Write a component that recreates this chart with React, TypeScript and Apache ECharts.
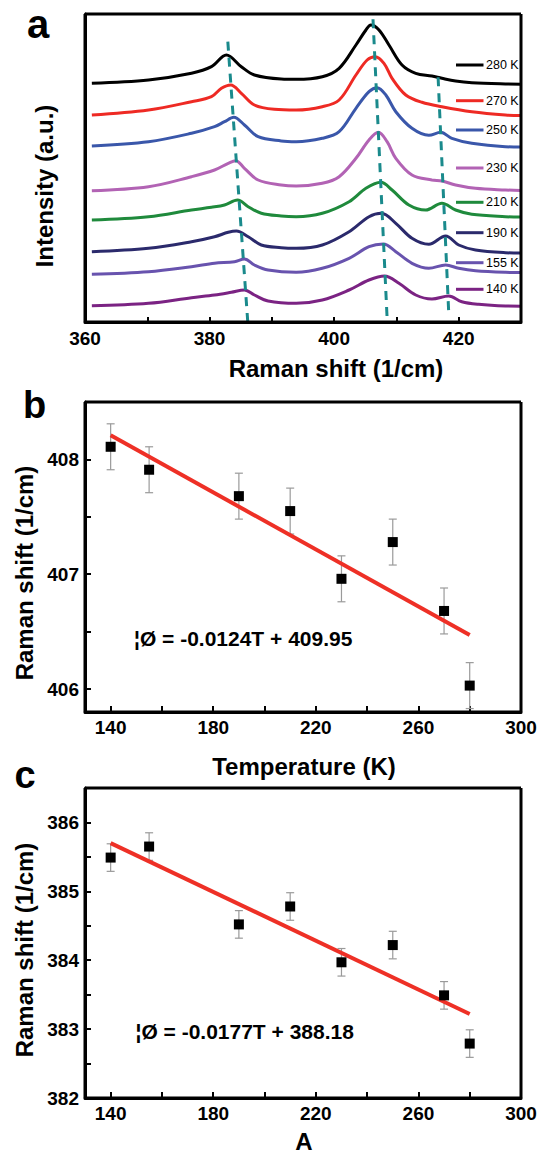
import React, { useEffect, useRef } from "react";
import * as echarts from "echarts";

const FONT = "'Liberation Sans', Arial, Helvetica, sans-serif";

// ---------- Panel a: Raman spectra (x: Raman shift 1/cm, y: offset intensity a.u.) ----------
const spectraLabels = ["280 K", "270 K", "250 K", "230 K", "210 K", "190 K", "155 K", "140 K"];
const spectraColors = ["#000000", "#ee2a24", "#3a57aa", "#b263b4", "#1f8a3c", "#2b2a6c", "#6853ae", "#7b2383"];

const spec280 = [[361.1,238.7],[370.2,242],[377.1,248.7],[380.3,255.3],[382.7,267],[385.1,255.3],[387.2,247],[391.5,243],[393.9,242.7],[398.1,245.3],[400.8,253.7],[403.5,277],[405.1,292],[405.9,297],[407.2,292],[408.8,277],[410.9,257],[413.1,248.7],[415.7,246],[417.3,243.7],[419.5,241],[422.1,239.3],[427.5,238],[430,237.8]];
const spec270 = [[361.1,207],[370.2,212],[377.1,220.3],[380.3,225.3],[381.9,233.7],[383.4,237],[385.1,228.7],[387.2,217],[390.4,212.7],[393.9,212],[398.1,215.3],[400.8,222],[403.5,247],[405.3,262],[406.6,265.3],[408,258.7],[409.3,243.7],[411.5,227],[414.1,219.7],[417.3,215.3],[422.1,210.3],[427.5,207],[430,206.5]];
const spec250 = [[361.1,176],[370.2,180.3],[377.1,188.7],[380.8,195.3],[382.4,200.3],[383.9,204.7],[385.6,197],[387.8,185.3],[391.5,181],[393.9,180.3],[398.1,183.7],[400.8,190.3],[403.5,213.7],[405.6,230.3],[406.9,234.3],[408.3,227],[409.9,210.3],[412.5,193.7],[415.2,186.7],[417.1,189.7],[418.9,183.7],[422.1,178.7],[427.5,175.3],[430,175]];
const spec230 = [[361.1,131.3],[370.2,135.3],[377.1,145.3],[380.8,152],[383,158.7],[384.2,161.3],[385.6,153.7],[387.8,142],[391.5,137],[393.9,136],[398.1,138.7],[400.8,145.3],[403.5,163.7],[405.6,182],[407.1,189.7],[408.5,180.3],[409.9,163.7],[412.5,147],[415.7,142],[417.3,141],[419.5,137],[422.7,133.7],[427.5,132],[430,131.5]];
const spec210 = [[361.1,102],[370.2,105.3],[377.1,112],[380.3,114.7],[382.4,117],[384.5,122],[386.2,115.3],[388.3,108.7],[391.5,106],[393.9,105.3],[398.1,108.7],[402.4,120.3],[405.1,133.7],[407.5,139.7],[409.3,132],[412,117],[414.7,112],[417.3,118.7],[419.5,112],[422.1,107.7],[427.5,105.3],[430,105]];
const spec190 = [[361.1,70.3],[370.2,73.7],[377.1,80.3],[380.8,85.3],[383,89.7],[384.3,91],[386.2,85.3],[388.3,77],[391.5,74.3],[393.9,73.7],[398.1,77],[402.4,90.3],[405.6,105.3],[407.6,108.7],[409.9,98.7],[412.5,83.7],[415.2,77.7],[417.9,86],[420,77],[422.7,72],[427.5,69.3],[430,69]];
const spec155 = [[361.1,47.7],[370.2,50.3],[377.1,55.3],[380.8,58.7],[384,60.3],[385.6,63],[387.2,57],[389.4,52],[393.9,49.7],[398.1,53.7],[402.4,63.7],[405.6,75.3],[407.9,78],[409.9,70.3],[412.5,58.7],[415.2,53.7],[417.9,57],[420,53.7],[422.7,51.3],[427.5,49.7],[430,49.5]];
const spec140 = [[361.1,16.3],[370.2,18.7],[377.1,24.3],[380.8,27],[383.5,29.7],[385.6,32],[387.2,27],[389.4,21],[393.9,18.7],[398.1,22],[402.4,32],[405.6,42],[408.1,46],[410.4,38.7],[413.1,27],[415.7,23],[418.4,26],[420.5,20.3],[423.2,17.7],[427.5,16],[430,15.8]];
const spectra = [spec280, spec270, spec250, spec230, spec210, spec190, spec155, spec140];

// peak-shift guide lines (dashed)
const guide1 = [[382.93, 280.3], [386.13, 0.3]];
const guide2 = [[406.24, 302.7], [408.53, 0.3]];
const guide3 = [[416.69, 244.7], [418.4, 8.7]];

// ---------- Panel b ----------
const temps = [140, 155, 190, 210, 230, 250, 270, 280];
const shiftB = [408.11, 407.91, 407.68, 407.55, 406.96, 407.28, 406.68, 406.03];
const errB = [0.2, 0.2, 0.2, 0.2, 0.2, 0.2, 0.2, 0.2];
const fitB = [[140, 408.21], [280, 406.47]];
const eqB = "¦Ø = -0.0124T + 409.95";

// ---------- Panel c ----------
const shiftC = [385.49, 385.65, 384.52, 384.78, 383.97, 384.22, 383.49, 382.79];
const errC = [0.2, 0.2, 0.2, 0.2, 0.2, 0.2, 0.2, 0.2];
const fitC = [[140, 385.70], [280, 383.22]];
const eqC = "¦Ø = -0.0177T + 388.18";

// legend vertical layout (px)
const legendY = [65, 100.7, 130, 168, 202.3, 232.7, 262.7, 289.3];

const GRIDS = [
  { left: 85, top: 14, width: 436, height: 308 },
  { left: 85, top: 402, width: 436, height: 310 },
  { left: 85, top: 788, width: 436, height: 310 },
];

const axisLineStyle = { color: "#000000", width: 3, opacity: 1, type: "solid" };
const tickStyle = { color: "#000000", width: 2, opacity: 1 };
const tickLabel = { fontSize: 19, fontWeight: "bold", fontFamily: FONT, color: "#000" };

function errRender(params: any, api: any) {
  const x = api.value(0);
  const lo = api.coord([x, api.value(1)]);
  const hi = api.coord([x, api.value(2)]);
  const w = 4;
  const st = { stroke: "#9a9a9a", lineWidth: 1.2 };
  return {
    type: "group",
    children: [
      { type: "line", shape: { x1: lo[0], y1: lo[1], x2: hi[0], y2: hi[1] }, style: st },
      { type: "line", shape: { x1: lo[0] - w, y1: lo[1], x2: lo[0] + w, y2: lo[1] }, style: st },
      { type: "line", shape: { x1: hi[0] - w, y1: hi[1], x2: hi[0] + w, y2: hi[1] }, style: st },
    ],
  };
}

function txt(text: string, x: number, y: number, size: number, opts: any = {}) {
  return {
    type: "text",
    x,
    y,
    rotation: opts.rotation || 0,
    z: 100,
    style: {
      text,
      fontSize: size,
      fontWeight: opts.weight || "bold",
      fontFamily: FONT,
      fill: "#000",
      align: opts.align || "center",
      textAlign: opts.align || "center",
      verticalAlign: opts.valign || "middle",
      textVerticalAlign: opts.valign || "middle",
    },
  };
}

export default function App() {
  const ref = useRef<HTMLDivElement>(null);
  useEffect(() => {
    if (!ref.current) return;
    const chart = echarts.init(ref.current, undefined, { renderer: "svg" });

    const tempAxis = (gi: number) => ({
      gridIndex: gi,
      type: "value",
      min: 130,
      max: 300,
      axisLine: { show: true, onZero: false, lineStyle: axisLineStyle },
      axisTick: { show: true, inside: true, length: 6, lineStyle: tickStyle, customValues: [140, 160, 180, 200, 220, 240, 260, 280] },
      axisLabel: { ...tickLabel, margin: 6, customValues: [140, 180, 220, 260, 300] },
      splitLine: { show: false },
    });

    const shiftAxis = (gi: number, min: number, max: number, labels: number[], ticks: number[]) => ({
      gridIndex: gi,
      type: "value",
      min,
      max,
      axisLine: { show: true, onZero: false, lineStyle: axisLineStyle },
      axisTick: { show: true, inside: true, length: 6, lineStyle: tickStyle, customValues: ticks },
      axisLabel: { ...tickLabel, margin: 6, customValues: labels },
      splitLine: { show: false },
    });

    const errData = (ys: number[], errs: number[]) => temps.map((t, i) => [t, ys[i] - errs[i], ys[i] + errs[i]]);

    const series: any[] = [];
    spectra.forEach((d, i) => {
      series.push({
        type: "line",
        name: spectraLabels[i],
        xAxisIndex: 0,
        yAxisIndex: 0,
        data: d,
        smooth: 0.35,
        showSymbol: false,
        lineStyle: { color: spectraColors[i], width: 3 },
        z: 2,
      });
    });
    [guide1, guide2, guide3].forEach((g) => {
      series.push({
        type: "line",
        xAxisIndex: 0,
        yAxisIndex: 0,
        data: g,
        showSymbol: false,
        lineStyle: { color: "#1a8a8c", width: 3, type: [9, 7] },
        z: 5,
      });
    });

    const panel = (gi: number, ys: number[], errs: number[], fit: number[][]) => {
      series.push({
        type: "custom",
        xAxisIndex: gi,
        yAxisIndex: gi,
        data: errData(ys, errs),
        renderItem: errRender,
        z: 2,
      });
      series.push({
        type: "line",
        xAxisIndex: gi,
        yAxisIndex: gi,
        data: fit,
        showSymbol: false,
        lineStyle: { color: "#ee3026", width: 4 },
        z: 3,
      });
      series.push({
        type: "scatter",
        xAxisIndex: gi,
        yAxisIndex: gi,
        data: temps.map((t, i) => [t, ys[i]]),
        symbol: "rect",
        symbolSize: 10,
        itemStyle: { color: "#000", opacity: 1 },
        z: 4,
      });
    };
    panel(1, shiftB, errB, fitB);
    panel(2, shiftC, errC, fitC);

    const graphics: any[] = [
      txt("a", 38, 24, 40),
      txt("b", 34.6, 405, 38),
      txt("c", 25, 775, 38),
      txt("Intensity (a.u.)", 44, 186, 24, { rotation: Math.PI / 2 }),
      txt("Raman shift (1/cm)", 336, 368, 24),
      txt("Raman shift (1/cm)", 24, 573, 24, { rotation: Math.PI / 2 }),
      txt("Temperature (K)", 304, 766.7, 24),
      txt("Raman shift (1/cm)", 24, 950, 24, { rotation: Math.PI / 2 }),
      txt("A", 304, 1141, 24),
      txt(eqB, 134, 638.3, 21, { align: "left" }),
      txt(eqC, 135.5, 1031.7, 21, { align: "left" }),
    ];
    // plot frames: four sides as lines
    GRIDS.forEach((g) => {
      const x1 = g.left, y1 = g.top, x2 = g.left + g.width, y2 = g.top + g.height;
      const st = { stroke: "#000000", lineWidth: 3 };
      graphics.push({ type: "line", z: 90, shape: { x1, y1, x2, y2: y1 }, style: st });
      graphics.push({ type: "line", z: 90, shape: { x1: x2, y1, x2, y2 }, style: st });
      graphics.push({ type: "line", z: 90, shape: { x1, y1: y2, x2, y2 }, style: st });
      graphics.push({ type: "line", z: 90, shape: { x1, y1, x2: x1, y2 }, style: st });
    });
    spectraLabels.forEach((lab, i) => {
      graphics.push({
        type: "line",
        z: 100,
        shape: { x1: 456, y1: legendY[i], x2: 483.5, y2: legendY[i] },
        style: { stroke: spectraColors[i], lineWidth: 3 },
      });
      graphics.push(txt(lab, 486, legendY[i], 12.5, { align: "left", weight: "normal" }));
    });

    chart.setOption({
      animation: false,
      backgroundColor: "#fff",
      grid: GRIDS.map((g) => ({ ...g, show: false })),
      xAxis: [
        {
          gridIndex: 0,
          type: "value",
          min: 360,
          max: 430,
          axisLine: { show: true, onZero: false, lineStyle: axisLineStyle },
          axisTick: { show: true, inside: true, length: 5, lineStyle: tickStyle, customValues: [370, 380, 390, 400, 410, 420] },
          axisLabel: { ...tickLabel, margin: 7, customValues: [360, 380, 400, 420] },
          splitLine: { show: false },
        },
        tempAxis(1),
        tempAxis(2),
      ],
      yAxis: [
        {
          gridIndex: 0,
          type: "value",
          min: 0,
          max: 308,
          axisLine: { show: true, onZero: false, lineStyle: axisLineStyle },
          axisTick: { show: false },
          axisLabel: { show: false },
          splitLine: { show: false },
        },
        shiftAxis(1, 405.8, 408.5, [406, 407, 408], [406, 406.5, 407, 407.5, 408]),
        shiftAxis(2, 382, 386.5, [382, 383, 384, 385, 386], [382.5, 383, 383.5, 384, 384.5, 385, 385.5, 386]),
      ],
      series,
      graphic: graphics,
    });

    return () => chart.dispose();
  }, []);

  return <div ref={ref} style={{ position: "absolute", left: 0, top: 0, width: 541, height: 1155 }} />;
}
